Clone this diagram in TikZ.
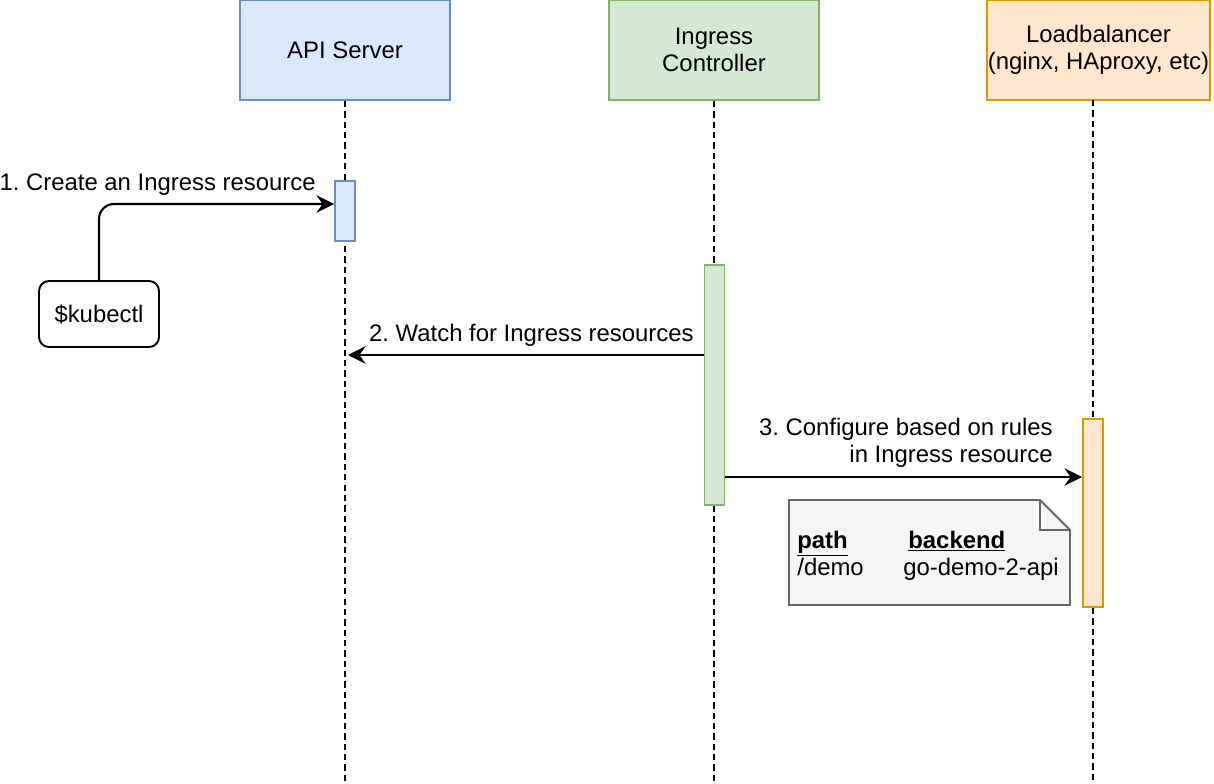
\documentclass[tikz,border=0pt]{standalone}
\usepackage{fontspec}
\setmainfont{Liberation Sans}
\usetikzlibrary{arrows.meta}
\frenchspacing

\definecolor{apifill}{HTML}{DAE8FC}
\definecolor{apiline}{HTML}{6C8EBF}
\definecolor{ingfill}{HTML}{D5E8D4}
\definecolor{ingline}{HTML}{82B366}
\definecolor{lbfill}{HTML}{FFE6CC}
\definecolor{lbline}{HTML}{D79B00}
\definecolor{notefill}{HTML}{F5F5F5}
\definecolor{noteline}{HTML}{666666}

\begin{document}
\begin{tikzpicture}[x=0.02cm, y=-0.02cm,
    every node/.style={font=\fontsize{13.6}{15.5}\selectfont, inner sep=0pt},
    header/.style={draw, line width=1.1pt, minimum height=2cm, align=center},
    act/.style={draw, line width=1.1pt, minimum width=0.4cm},
    lifeline/.style={line width=1.1pt, dash pattern=on 3.6pt off 2.3pt},
    msg/.style={line width=1.2pt, -{Stealth[length=10pt, width=10pt, inset=3.5pt]}},
    lbl/.style={anchor=east, align=right}]
    \useasboundingbox (0,0) rectangle (1214,784);

    % participants
    \node [header, minimum width=4.2cm, fill=apifill, draw=apiline] (api) at (345,50) {API Server};
    \node [header, minimum width=4.2cm, fill=ingfill, draw=ingline] (ing) at (714,50) {Ingress\\Controller};
    \node [header, minimum width=4.46cm, fill=lbfill, draw=lbline] (lb) at (1098.5,50) {Loadbalancer\\(nginx, HAproxy, etc)};

    % lifelines
    \coordinate (apiend) at (345,784);
    \coordinate (ingend) at (714,784);
    \coordinate (lbtop) at (1093,100);
    \coordinate (lbend) at (1093,784);
    \draw [lifeline] (api.south) -- (apiend);
    \draw [lifeline] (ing.south) -- (ingend);
    \draw [lifeline] (lbtop) -- (lbend);

    % activations
    \node [act, minimum height=1.2cm, fill=apifill, draw=apiline] (apiact) at (345,211) {};
    \node [act, minimum height=4.8cm, fill=ingfill, draw=ingline] (ingact) at (714.5,385) {};
    \node [act, minimum height=3.76cm, fill=lbfill, draw=lbline] (lbact) at (1093,513) {};

    % 1.
    \node [draw, line width=1.1pt, rounded corners=0.2cm, minimum width=2.4cm, minimum height=1.32cm] (kubectl) at (99,314) {\$kubectl};
    \draw [msg, rounded corners=0.3cm] (kubectl.north) |- ([yshift=0.14cm]apiact.west);
    \node [lbl] (l1) at (316,185) {1. Create an Ingress resource};

    % 2.
    \coordinate (w2) at (348,355);
    \draw [msg] (w2 -| ingact.west) -- (w2);
    \node [lbl] (l2) at (694,335) {2. Watch for Ingress resources};

    % 3.
    \coordinate (c3) at (1082,477);
    \draw [msg] (c3 -| ingact.east) -- (c3);
    \node [lbl] (l3) at (1053,443) {3. Configure based on rules\\in Ingress resource};

    % note
    \draw [line width=1.1pt, fill=notefill, draw=noteline]
        (789,500) -- (1040,500) -- (1070,530) -- (1070,605) -- (789,605) -- cycle;
    \draw [line width=1.1pt, draw=noteline] (1040,500) -- (1040,530) -- (1070,530);
    \node [anchor=base west] (path) at (797,548) {\underline{\textbf{path}}};
    \node [anchor=base west] (backend) at (908,548) {\underline{\textbf{backend}}};
    \node [anchor=base west] (demo) at (797,575) {/demo};
    \node [anchor=base west] (godemo) at (903,575) {go-demo-2-api};
\end{tikzpicture}
\end{document}
